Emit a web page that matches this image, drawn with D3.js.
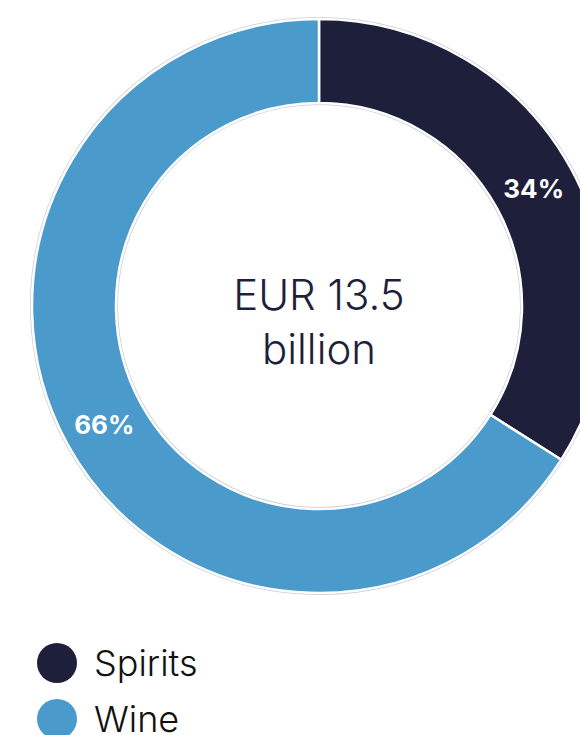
<!DOCTYPE html>
<html>
<head>
<meta charset="utf-8">
<script src="https://cdn.jsdelivr.net/npm/d3@7"></script>
<style>
  html, body { margin: 0; padding: 0; background: #fff; }
  svg { display: block; }
</style>
</head>
<body>
<svg id="chart" width="580" height="735"></svg>
<script>
// Export value split by category (share of total)
const categories = ["Spirits", "Wine"];
const shares = [34, 66];
const colors = ["#1e1f3b", "#4a9bcb"];
const centerLines = ["EUR 13.5", "billion"];

const svg = d3.select("#chart");
const cx = 319, cy = 306;
const outerR = 287, innerR = 203;

const pie = d3.pie().sort(null).value(d => d.value);
const arcs = pie(categories.map((c, i) => ({ name: c, value: shares[i], color: colors[i] })));

const arc = d3.arc().innerRadius(innerR).outerRadius(outerR);
const labelArc = d3.arc().innerRadius((innerR + outerR) / 2).outerRadius((innerR + outerR) / 2);

const g = svg.append("g").attr("transform", `translate(${cx},${cy})`);

// faint grey outline under each slice
g.selectAll("path.outline")
  .data(arcs)
  .enter().append("path")
  .attr("class", "outline")
  .attr("d", arc)
  .attr("fill", "none")
  .attr("stroke", "#c9ced8")
  .attr("stroke-width", 4);

// slices with white separating edge
g.selectAll("path.slice")
  .data(arcs)
  .enter().append("path")
  .attr("class", "slice")
  .attr("d", arc)
  .attr("fill", d => d.data.color)
  .attr("stroke", "#fff")
  .attr("stroke-width", 2.5);

// percentage labels
g.selectAll("text.pct")
  .data(arcs)
  .enter().append("text")
  .attr("class", "pct")
  .attr("transform", d => `translate(${labelArc.centroid(d)})`)
  .attr("text-anchor", "middle")
  .attr("dy", "0.38em")
  .attr("fill", "#fff")
  .attr("font-family", "Inter, 'Open Sans', sans-serif")
  .attr("font-weight", 700)
  .attr("font-size", 26)
  .text(d => d.data.value + "%");

// centre total
g.selectAll("text.total")
  .data(centerLines)
  .enter().append("text")
  .attr("class", "total")
  .attr("text-anchor", "middle")
  .attr("y", (d, i) => 4 + i * 54)
  .attr("fill", "#1e1f3b")
  .attr("font-family", "Inter, Lato, sans-serif")
  .attr("font-weight", 300)
  .attr("font-size", 42)
  .text(d => d);

// legend
const legend = svg.append("g");
const items = legend.selectAll("g")
  .data(categories)
  .enter().append("g")
  .attr("transform", (d, i) => `translate(57, ${663 + i * 56})`);

items.append("circle")
  .attr("r", 20)
  .attr("fill", (d, i) => colors[i]);

items.append("text")
  .attr("x", 37)
  .attr("dy", "0.36em")
  .attr("fill", "#111")
  .attr("font-family", "Inter, Lato, sans-serif")
  .attr("font-weight", 300)
  .attr("font-size", 36)
  .text(d => d);
</script>
</body>
</html>
